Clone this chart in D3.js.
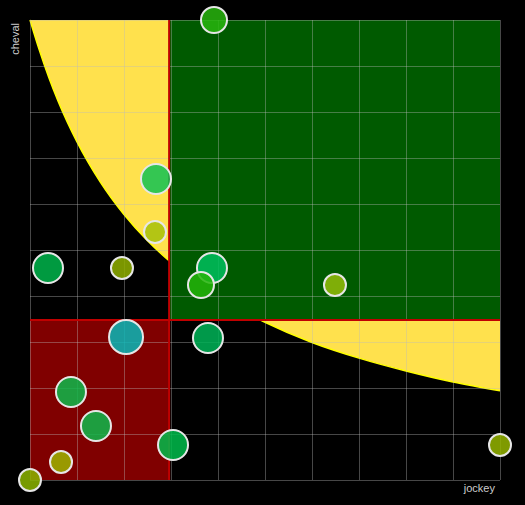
<!DOCTYPE html>
<html>
<head>
<meta charset="utf-8">
<script src="https://cdn.jsdelivr.net/npm/d3@7"></script>
<style>
html, body { margin: 0; padding: 0; background: #000; }
svg { display: block; }
</style>
</head>
<body>
<svg id="chart" width="525" height="505"></svg>
<script>
// ---- data ----
const xTicks = [0, 1, 2, 3, 4, 5, 6, 7, 8, 9, 10];
const yTicks = [0, 1, 2, 3, 4, 5, 6, 7, 8, 9, 10];
const xThreshold = 2.96;   // jockey threshold
const yThreshold = 3.48;   // cheval threshold

// iso-curve, points
const curveX = [0, 0.2, 0.4, 0.6, 1.0, 1.5, 2.0, 2.5, 3.0, 4.0, 5.0, 6.0, 7.0, 8.0, 9.0, 10.0];
const curveY = [10, 9.34, 8.75, 8.23, 7.35, 6.47, 5.77, 5.20, 4.73, 3.98, 3.43, 2.99, 2.65, 2.37, 2.13, 1.94];

// bubbles
const jockey = [3.915, 2.681, 2.660, 0.383, 1.957, 3.872, 3.638, 6.489, 2.043, 3.787, 0.872, 1.404, 0.660, 0.0, 3.043, 10.0];
const cheval = [10.0, 6.543, 5.391, 4.609, 4.609, 4.609, 4.239, 4.239, 3.109, 3.087, 1.913, 1.174, 0.391, 0.0, 0.761, 0.761];
const size   = [2, 3, 1, 3, 1, 3, 2, 1, 4, 3, 3, 3, 1, 1, 3, 1];
const colour = ["#28b60e", "#10c154", "#a6c00a", "#00b54b", "#90b000", "#00bf5e", "#23b509", "#95bd09",
                "#08b9b9", "#00b457", "#0dba4b", "#0dba4b", "#9eb400", "#8cb500", "#00bc4b", "#95b500"];

const xLabel = "jockey";
const yLabel = "cheval";

// ---- layout ----
const margin = {top: 20, right: 25, bottom: 25, left: 30};
const W = 525, H = 505;
const w = W - margin.left - margin.right;
const h = H - margin.top - margin.bottom;

const svg = d3.select("#chart");
const g = svg.append("g").attr("transform", `translate(${margin.left},${margin.top})`);

const x = d3.scaleLinear().domain([0, 10]).range([0, w]);
const y = d3.scaleLinear().domain([0, 10]).range([h, 0]);
const r = d3.scaleLinear().domain([1, 4]).range([12, 18]);

// yellow zone above the curve
const curvePts = curveX.map((d, i) => [d, curveY[i]]);
g.append("path")
  .datum(curvePts)
  .attr("fill", "#ffe14d")
  .attr("d", d3.area().x(d => x(d[0])).y0(y(10)).y1(d => y(d[1])).curve(d3.curveMonotoneX));
g.append("path")
  .datum(curvePts)
  .attr("fill", "none")
  .attr("stroke", "#ffff00")
  .attr("stroke-width", 1.5)
  .attr("d", d3.line().x(d => x(d[0])).y(d => y(d[1])).curve(d3.curveMonotoneX));

// green quadrant (top right)
g.append("rect")
  .attr("x", x(xThreshold)).attr("y", y(10))
  .attr("width", x(10) - x(xThreshold)).attr("height", y(yThreshold) - y(10))
  .attr("fill", "#005a00");
// red quadrant (bottom left)
g.append("rect")
  .attr("x", x(0)).attr("y", y(yThreshold))
  .attr("width", x(xThreshold) - x(0)).attr("height", y(0) - y(yThreshold))
  .attr("fill", "#800000");

// grid through axes
const gx = g.append("g").attr("transform", `translate(0,${h})`)
  .call(d3.axisBottom(x).tickValues(xTicks).tickSize(-h).tickFormat(""));
const gy = g.append("g")
  .call(d3.axisLeft(y).tickValues(yTicks).tickSize(-w).tickFormat(""));
[gx, gy].forEach(a => {
  a.select(".domain").remove();
  a.selectAll(".tick line").attr("stroke", "#bbbbbb").attr("stroke-opacity", 0.38).attr("stroke-width", 1);
});

// threshold lines
g.append("line")
  .attr("x1", x(xThreshold)).attr("x2", x(xThreshold))
  .attr("y1", y(10)).attr("y2", y(0))
  .attr("stroke", "#c00000").attr("stroke-width", 2);
g.append("line")
  .attr("x1", x(0)).attr("x2", x(10))
  .attr("y1", y(yThreshold)).attr("y2", y(yThreshold))
  .attr("stroke", "#c00000").attr("stroke-width", 2);

// bubbles
const pts = jockey.map((d, i) => ({x: d, y: cheval[i], s: size[i], c: colour[i]}));
g.selectAll("circle.bubble").data(pts).enter().append("circle")
  .attr("class", "bubble")
  .attr("cx", d => x(d.x)).attr("cy", d => y(d.y))
  .attr("r", d => r(d.s) - 1)
  .attr("fill", d => d.c).attr("fill-opacity", 0.85)
  .attr("stroke", "#e6e6e6").attr("stroke-width", 2);

// axis titles
svg.append("text")
  .attr("x", margin.left + w - 5).attr("y", H - 13)
  .attr("text-anchor", "end")
  .attr("font-family", "Liberation Sans, Arial, sans-serif")
  .attr("font-size", 11).attr("fill", "#cccccc")
  .text(xLabel);
svg.append("text")
  .attr("transform", `translate(19,${margin.top + 3}) rotate(-90)`)
  .attr("text-anchor", "end")
  .attr("font-family", "Liberation Sans, Arial, sans-serif")
  .attr("font-size", 11).attr("fill", "#cccccc")
  .text(yLabel);
</script>
</body>
</html>
